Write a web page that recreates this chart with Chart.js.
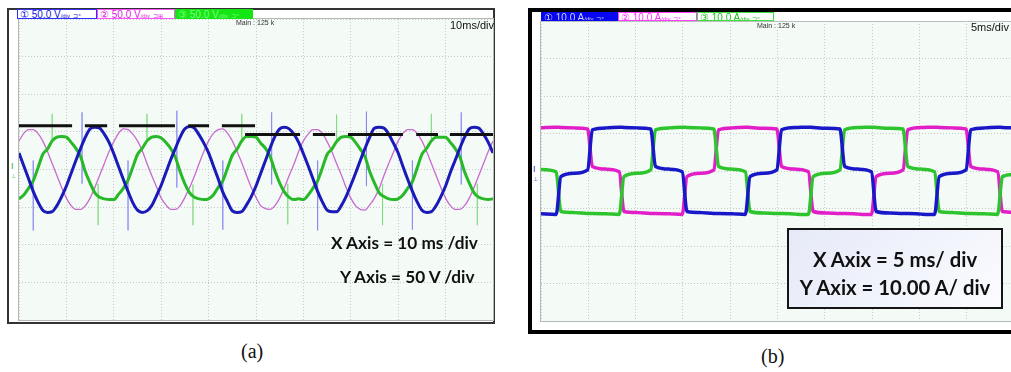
<!DOCTYPE html>
<html><head><meta charset="utf-8">
<script src="https://cdn.jsdelivr.net/npm/chart.js@4.4.1/dist/chart.umd.min.js"></script>
<style>
html,body{margin:0;padding:0;background:#fff;}
body{width:1011px;height:372px;overflow:hidden;position:relative;font-family:"Liberation Sans",Arial,sans-serif;}
.abs{position:absolute;box-sizing:border-box;}
.hb{position:absolute;box-sizing:border-box;font-size:10px;line-height:9px;white-space:nowrap;overflow:hidden;padding-left:2px;}
.hb small{font-size:6px;}
.lbl{position:absolute;font-family:Lato,"Open Sans",sans-serif;font-weight:700;color:#111;white-space:nowrap;}
.cap{position:absolute;font-family:"Liberation Serif","DejaVu Serif",serif;font-size:20px;color:#111;}
canvas{position:absolute;}
</style></head><body>

<!-- panel (a) -->
<div class="abs" style="left:7px;top:8px;width:488px;height:316px;border:2px solid #333;background:#fff;"></div>
<div class="abs" style="left:18px;top:18px;width:476px;height:303px;border:1px solid #b5b9b6;background:#f4faf6;"></div>
<canvas id="cA" width="474" height="301" style="left:19px;top:19px;width:474px;height:301px;"></canvas>
<div class="hb" style="left:17px;top:9px;width:80px;height:10px;border:1px solid #3030ff;background:#fff;color:#1414e0;">① 50.0 V<small>/div</small> <small>⊒⁺</small></div>
<div class="hb" style="left:97px;top:9px;width:78px;height:10px;border:1px solid #ff50ff;background:#fff;color:#e020e0;">② 50.0 V<small>/div</small> <small>⊒⊞</small></div>
<div class="hb" style="left:175px;top:9px;width:78px;height:10px;border:1px solid #14e614;background:#14e614;color:#80ff80;">③ 50.0 V<small>/div</small> <small>⊒⁺</small></div>
<div class="abs" style="left:236px;top:19px;font-size:7px;color:#333;white-space:nowrap;">Main : 125 k</div>
<div class="abs" style="left:450px;top:19px;font-size:11px;color:#111;white-space:nowrap;">10ms/div</div>
<div class="abs" style="left:11px;top:162px;font-size:9px;color:#30b030;line-height:9px;">I<br><span style="font-size:6px;">⊥</span></div>
<div class="lbl" style="left:331px;top:232px;font-size:17.2px;">X Axis = 10 ms /div</div>
<div class="lbl" style="left:340px;top:266px;font-size:17.2px;">Y Axis = 50 V /div</div>
<div class="cap" style="left:241px;top:340px;">(a)</div>

<!-- panel (b) -->
<div class="abs" style="left:528px;top:8px;width:540px;height:326px;border:4px solid #000;background:#fff;"></div>
<div class="abs" style="left:540px;top:21px;width:490px;height:301px;border:1px solid #b5b9b6;background:#f4faf6;"></div>
<canvas id="cB" width="473" height="300" style="left:541px;top:21px;width:473px;height:300px;"></canvas>
<div class="hb" style="left:541px;top:12px;width:77px;height:9px;border:1px solid #0808f0;background:#0808f0;color:#d0d0ff;">① 10.0 A<small>/div</small> <small>⊒⁺</small></div>
<div class="hb" style="left:618px;top:12px;width:79px;height:9px;border:1px solid #ff40ff;background:#fff;color:#ff30ff;">② 10.0 A<small>/div</small> <small>⊒⁺</small></div>
<div class="hb" style="left:697px;top:12px;width:77px;height:9px;border:1px solid #40e040;background:#fff;color:#20c020;">③ 10.0 A<small>/div</small> <small>⊒⁺</small></div>
<div class="abs" style="left:757px;top:22px;font-size:7px;color:#333;white-space:nowrap;">Main : 125 k</div>
<div class="abs" style="left:971px;top:21px;font-size:11px;color:#111;white-space:nowrap;">5ms/div</div>
<div class="abs" style="left:533px;top:165px;font-size:9px;color:#3030d0;line-height:9px;">I<br><span style="font-size:6px;">⊥</span></div>
<div class="abs" style="left:787px;top:228px;width:216px;height:81px;border:2px solid #151515;background:linear-gradient(135deg,#e6eaf8,#fbfcff);"></div>
<div class="lbl" style="left:787px;top:247px;width:216px;text-align:center;font-size:20.3px;">X Axix = 5 ms/ div</div>
<div class="lbl" style="left:787px;top:275px;width:216px;text-align:center;font-size:20.3px;">Y Axix = 10.00 A/ div</div>
<div class="cap" style="left:761px;top:345px;">(b)</div>

<script>
// ---------- (a) voltages, 10 ms/div, 50 V/div ----------
const timeA = [0,1,2,3,4,5,6,7,8,9,10,11,12,13,14,15,16,17,18,19,20,21,22,23,24,25,26,27,28,29,30,31,32,33,34,35,36,37,38,39,40,41,42,43,44,45,46,47,48,49,50,51,52,53,54,55,56,57,58,59,60,61,62,63,64,65,66,67,68,69,70,71,72,73,74,75,76,77,78,79,80,81,82,83,84,85,86,87,88,89,90,91,92,93,94,95,96,97,98,99,100];
const voltBlue = [22,5,-12,-29,-43,-54,-57,-56,-48,-36,-22,-5,12,28,43,54,56,55,47,36,
  21,4,-13,-29,-44,-54,-57,-55,-48,-35,-21,-4,13,28,43,54,57,55,46,35,
  22,5,-12,-30,-43,-55,-57,-56,-47,-36,-22,-5,12,29,44,54,56,54,47,36,
  21,5,-12,-29,-43,-54,-56,-56,-48,-36,-21,-5,12,28,43,55,56,55,47,35,
  22,4,-13,-29,-43,-54,-57,-56,-48,-36,-22,-4,12,28,43,54,56,55,47,36,22];
const voltPink = [38,48,53,53,48,38,24,8,-8,-24,-38,-48,-53,-53,-48,-38,-24,-8,8,24,
  37,48,54,53,47,38,25,8,-8,-23,-38,-47,-53,-53,-48,-37,-24,-9,8,24,
  38,48,53,54,48,38,24,9,-8,-24,-37,-48,-52,-53,-48,-38,-24,-8,7,24,
  38,47,53,53,48,37,24,8,-7,-24,-38,-48,-53,-54,-47,-38,-25,-8,8,23,
  38,48,53,53,48,38,24,8,-8,-24,-38,-48,-53,-53,-48,-38,-24,-8,8,24,38];
const voltGreen = [-39,-34,-25,-15,2,20,27,38,43,44,43,36,28,17,-3,-18,-31,-37,-39,-40,
  -40,-33,-25,-14,3,20,28,38,43,44,42,36,28,16,-3,-19,-31,-37,-39,-40,
  -39,-34,-24,-15,2,19,27,38,44,44,43,35,28,17,-2,-18,-30,-37,-40,-39,
  -40,-34,-25,-15,2,20,27,37,43,44,43,36,27,17,-3,-18,-31,-36,-39,-40,
  -39,-34,-25,-16,2,20,28,38,43,43,43,36,28,17,-3,-18,-31,-37,-39,-40,-39];
// thin switching spikes
const spikeBlueT = [3,13.3,23,33.3,43,53.3,63,73.3,83,93.3];
const spikeBlueHi = [12,76,12,78,12,76,12,77,12,76];
const spikeBlueLo = [-81,-19,-81,-24,-80,-20,-81,-22,-80,-20];
const spikeGreenT = [7,16.7,27,36.7,47,56.7,67,76.7,87,96.7];
const spikeGreenHi = [74,-19,74,-20,74,-19,73,-19,74,-19];
const spikeGreenLo = [40,-74,38,-74,40,-73,39,-74,40,-74];
// black reference dashes
const refStart = [-0.4,13.9,21.1,35.7,42.8,47.7,62,69.4,83.8,90.9];
const refEnd   = [11.2,18.6,32.9,40.1,49.8,59.3,66.7,81,88.4,100.4];
const refLevel = [58,58,58,58,58,46.5,46.5,46.5,46.5,46.5];

// ---------- (b) currents, 5 ms/div, 10 A/div ----------
const timeB = [0,1.6,2.1,3.57,4.93,5.43,6.9,8.27,8.77,10.23,11.6,12.1,13.57,14.93,15.43,16.9,18.27,18.77,20.23,21.6,22.1,23.57,24.93,25.43,26.9,28.27,28.77,30.23,31.6,32.1,33.57,34.93,35.43,36.9,38.27,38.77,40.23,41.6,42.1,43.57,44.93,45.43,46.9,48.27,48.77,50];
const ampBlue = [-11.4,-11.6, -1.5,-0.6,0.3, 11.0,11.5,11.7, 11.6,11.5,11.2, 1.2,0.5,-0.2, -10.8,-11.1,-11.3, -11.3,-11.4,-11.6,
  -1.5,-0.6,0.3, 11.0,11.6,11.7, 11.6,11.4,11.2, 1.2,0.5,-0.2, -10.8,-11.2,-11.3, -11.3,-11.5,-11.6, -1.5,-0.6,0.3, 11.0,11.5,11.7, 11.6,11.5];
const ampPink = [11.5,11.7, 11.6,11.5,11.2, 1.2,0.5,-0.2, -10.8,-11.1,-11.3, -11.3,-11.4,-11.6, -1.5,-0.6,0.3,
  11.0,11.5,11.7, 11.6,11.4,11.2, 1.2,0.5,-0.2, -10.8,-11.2,-11.3, -11.3,-11.5,-11.6, -1.5,-0.6,0.3,
  11.0,11.6,11.7, 11.6,11.5,11.2, 1.2,0.5,-0.2, -10.8,-11.0];
const ampGreen = [0.4,-0.2, -10.8,-11.1,-11.3, -11.3,-11.4,-11.6, -1.5,-0.6,0.3, 11.0,11.5,11.7, 11.6,11.5,11.2,
  1.2,0.5,-0.2, -10.8,-11.2,-11.3, -11.3,-11.5,-11.6, -1.5,-0.6,0.3, 11.0,11.6,11.7, 11.6,11.4,11.2,
  1.2,0.5,-0.2, -10.8,-11.1,-11.3, -11.3,-11.4,-11.6, -1.5,-0.9];

// ---------- helpers ----------
const pts = (t, v) => t.map((x, i) => ({x: x, y: v[i]}));
function spikes(t, hi, lo){ const out=[]; t.forEach((x,i)=>{out.push({x:x,y:hi[i]},{x:x,y:lo[i]},{x:x,y:null});}); return out; }
function segs(s, e, lv){ const out=[]; s.forEach((x,i)=>{out.push({x:x,y:lv[i]},{x:e[i],y:lv[i]},{x:e[i],y:null});}); return out; }
function line(data, color, w, extra){ return Object.assign({data:data, borderColor:color, borderWidth:w, pointRadius:0, pointHoverRadius:0, fill:false, spanGaps:false, cubicInterpolationMode:'monotone'}, extra||{}); }
function opts(xmax, xstep, ymax, ystep){
  const g = {color:'#c4cbc7', lineWidth:1, drawTicks:false, tickLength:0};
  return {responsive:false, animation:false, maintainAspectRatio:false, layout:{padding:0}, events:[],
    plugins:{legend:{display:false}, tooltip:{enabled:false}},
    scales:{
      x:{type:'linear', min:0, max:xmax, ticks:{display:false, stepSize:xstep}, grid:g, border:{display:false, dash:[1,2]}},
      y:{type:'linear', min:-ymax, max:ymax, ticks:{display:false, stepSize:ystep}, grid:g, border:{display:false, dash:[1,2]}}
    }};
}

new Chart(document.getElementById('cA'), {type:'line', data:{datasets:[
  line(segs(refStart, refEnd, refLevel), '#111', 3, {cubicInterpolationMode:'default', tension:0, clip:4}),
  line(pts(timeA, voltBlue), '#1a1ab8', 3),
  line(pts(timeA, voltGreen), '#27b927', 3),
  line(pts(timeA, voltPink), '#c86ad0', 1.3),
  line(spikes(spikeBlueT, spikeBlueHi, spikeBlueLo), 'rgba(110,110,240,0.45)', 1, {cubicInterpolationMode:'default', tension:0}),
  line(spikes(spikeGreenT, spikeGreenHi, spikeGreenLo), 'rgba(110,215,110,0.5)', 1, {cubicInterpolationMode:'default', tension:0})
]}, options: opts(100, 10, 200, 50)});

new Chart(document.getElementById('cB'), {type:'line', data:{datasets:[
  line(pts(timeB, ampBlue), '#1818c8', 3.5),
  line(pts(timeB, ampGreen), '#2ec42e', 3.5),
  line(pts(timeB, ampPink), '#e21ec8', 3.5)
]}, options: opts(50, 5, 40, 10)});
</script>
</body></html>
